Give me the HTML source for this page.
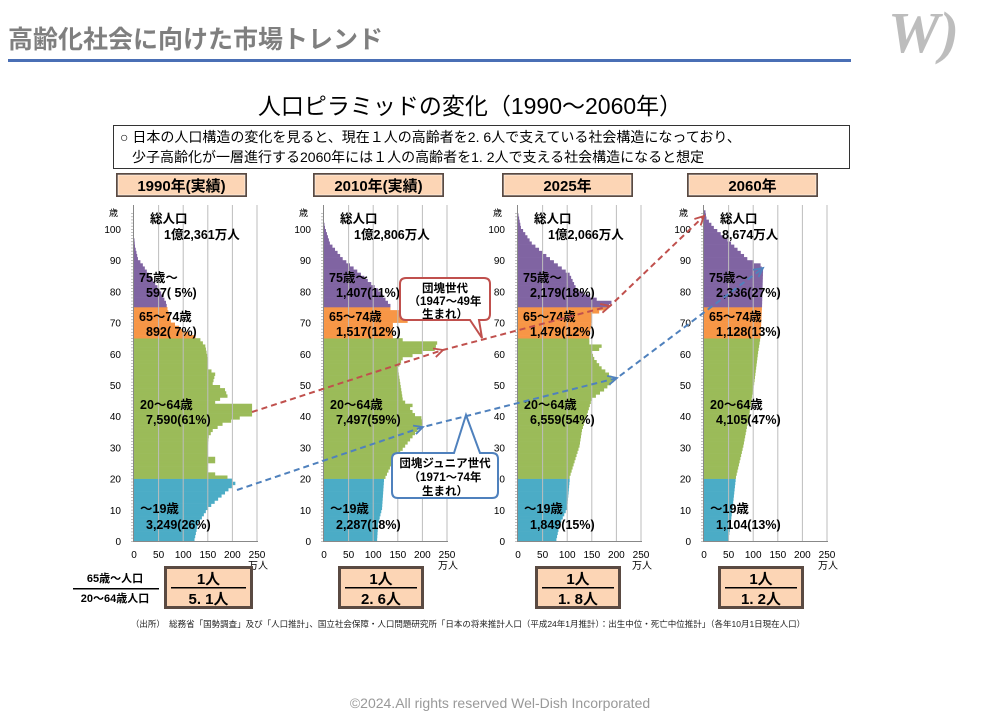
<!DOCTYPE html>
<html><head><meta charset="utf-8">
<style>
html,body{margin:0;padding:0;background:#fff;}
svg{display:block;font-family:"Liberation Sans","Noto Sans CJK JP",sans-serif;}
</style></head>
<body>
<svg id="s" width="1004" height="713" viewBox="0 0 1004 713" xmlns="http://www.w3.org/2000/svg">
<text x="8" y="48" font-size="25" font-weight="bold" fill="#7f7f7f">高齢化社会に向けた市場トレンド</text>
<rect x="8" y="59" width="843" height="3" fill="#4a6fb5"/>
<text x="888" y="52" font-size="58" font-weight="bold" font-family="Liberation Serif,serif" fill="#bdbdbd" font-style="italic">W)</text>
<text x="470" y="114" font-size="23" text-anchor="middle" fill="#000">人口ピラミッドの変化（1990～2060年）</text>
<rect x="113.5" y="125.5" width="736" height="43" fill="#fff" stroke="#333" stroke-width="1"/>
<text x="120" y="142" font-size="14" fill="#000">○ 日本の人口構造の変化を見ると、現在１人の高齢者を2. 6人で支えている社会構造になっており、</text>
<text x="132" y="162" font-size="14" fill="#000">少子高齢化が一層進行する2060年には１人の高齢者を1. 2人で支える社会構造になると想定</text>
<g id="g"></g>
<text x="115" y="582" font-size="11" font-weight="bold" text-anchor="middle">65歳～人口</text>
<rect x="73" y="588" width="86" height="1.5" fill="#000"/>
<text x="115" y="602" font-size="11" font-weight="bold" text-anchor="middle">20～64歳人口</text>
<text x="468" y="627" font-size="8.5" text-anchor="middle" fill="#222">（出所）　総務省「国勢調査」及び「人口推計」、国立社会保障・人口問題研究所「日本の将来推計人口（平成24年1月推計）：出生中位・死亡中位推計」（各年10月1日現在人口）</text>
<text x="500" y="708" font-size="14" text-anchor="middle" fill="#999">©2024.All rights reserved Wel-Dish Incorporated</text>
</svg>
<script>
var NS="http://www.w3.org/2000/svg",g=document.getElementById("g");
function el(t,a,txt){var e=document.createElementNS(NS,t);for(var k in a)e.setAttribute(k,a[k]);if(txt!=null)e.textContent=txt;g.appendChild(e);return e;}
var X0=[134,324,518,704],Y0=541,SY=3.12,SX=0.492;
var D=[
[[0,123],[5,130],[10,150],[15,185],[18,206],[19,200],[20,190],[21,165],[22,150],[24,150],[25,165],[26,165],[27,150],[30,150],[33,152],[35,160],[37,180],[39,215],[40,240],[43,240],[44,165],[45,175],[46,190],[48,185],[49,175],[50,160],[53,165],[55,150],[58,150],[62,145],[64,135],[65,125],[67,100],[70,75],[74,68],[76,65],[80,52],[85,30],[88,18],[90,8],[94,2],[98,0]],
[[0,108],[5,110],[10,118],[19,122],[20,125],[25,140],[30,165],[35,190],[37,200],[39,198],[40,185],[42,175],[43,180],[44,165],[45,160],[50,155],[55,150],[58,160],[60,200],[61,225],[63,230],[64,160],[65,140],[69,140],[70,170],[73,170],[74,135],[75,135],[80,110],[85,75],[90,38],[95,12],[100,2],[102,0]],
[[0,78],[5,85],[10,100],[19,105],[20,105],[25,115],[30,125],[35,130],[40,140],[45,150],[48,175],[51,195],[53,185],[55,170],[58,155],[60,150],[61,165],[62,170],[63,145],[65,145],[70,150],[72,150],[73,165],[74,180],[76,190],[77,160],[80,120],[85,105],[90,65],[95,28],[100,6],[104,1]],
[[0,50],[10,58],[20,65],[30,80],[40,92],[50,102],[60,110],[65,115],[75,118],[86,120],[88,115],[90,88],[95,55],[100,20],[103,5],[105,3]]];
function val(k,a){for(var i=0;i<k.length-1;i++){if(a>=k[i][0]&&a<=k[i+1][0]){var t=(a-k[i][0])/(k[i+1][0]-k[i][0]);return k[i][1]+t*(k[i+1][1]-k[i][1]);}}return 0;}
var L=[["1億2,361万人","597( 5%)","892( 7%)","7,590(61%)","3,249(26%)"],
["1億2,806万人","1,407(11%)","1,517(12%)","7,497(59%)","2,287(18%)"],
["1億2,066万人","2,179(18%)","1,479(12%)","6,559(54%)","1,849(15%)"],
["8,674万人","2,336(27%)","1,128(13%)","4,105(47%)","1,104(13%)"]];
var YB=[[116,131,"1990年(実績)"],[313,131,"2010年(実績)"],[502,131,"2025年"],[687,131,"2060年"]];
var RB=[[164,89,"5. 1人"],[338,86,"2. 6人"],[535,86,"1. 8人"],[718,86,"1. 2人"]];
for(var c=0;c<4;c++){
 var x0=X0[c];
 // year box
 var b=YB[c];
 el("rect",{x:b[0],y:173,width:b[1],height:24,fill:"#5a4a42"});
 el("rect",{x:b[0]+2,y:175,width:b[1]-4,height:20,fill:"#fcd5b5",stroke:"#fff","stroke-width":0.5});
 el("text",{x:b[0]+b[1]/2,y:191,"font-size":15,"font-weight":"bold","text-anchor":"middle"},b[2]);
 // bars
 for(var a=0;a<106;a++){var v=val(D[c],a);if(v<=0.5)continue;
  var col=a<20?"#4bacc6":a<65?"#9bbb59":a<75?"#f79646":"#8064a2";
  el("rect",{x:x0,y:(Y0-(a+1)*SY).toFixed(2),width:(v*SX).toFixed(2),height:SY+0.3,fill:col});}
 // grid
 for(var i=1;i<=5;i++){el("rect",{x:x0+i*50*SX-0.5,y:205,width:1,height:336,fill:"#bdbdbd"});}
 el("rect",{x:x0-1,y:205,width:1,height:337,fill:"#888"});
 for(var a=0;a<=105;a+=1){el("rect",{x:x0-3,y:Y0-a*SY,width:2,height:0.6,fill:"#999"});}
 el("rect",{x:x0-1,y:541,width:125,height:1,fill:"#888"});
 for(var a=0;a<=100;a+=10){el("text",{x:x0-13,y:Y0-a*SY+4,"font-size":10,"text-anchor":"end"},String(a));}
 el("text",{x:x0-16,y:216,"font-size":9,"text-anchor":"end"},"歳");
 for(var i=0;i<=5;i++){el("text",{x:x0+i*50*SX,y:558,"font-size":10,"text-anchor":"middle"},String(i*50));}
 el("text",{x:x0+124,y:569,"font-size":10,"text-anchor":"middle"},"万人");
 var l=L[c];
 el("text",{x:x0+16,y:223,"font-size":12.5,"font-weight":"bold"},"総人口");
 el("text",{x:x0+(c==3?18:30),y:239,"font-size":12.5,"font-weight":"bold"},l[0]);
 el("text",{x:x0+5,y:282,"font-size":12.5,"font-weight":"bold"},"75歳～");
 el("text",{x:x0+12,y:297,"font-size":12.5,"font-weight":"bold"},l[1]);
 el("text",{x:x0+5,y:321,"font-size":12.5,"font-weight":"bold"},"65～74歳");
 el("text",{x:x0+12,y:336,"font-size":12.5,"font-weight":"bold"},l[2]);
 el("text",{x:x0+6,y:409,"font-size":12.5,"font-weight":"bold"},"20～64歳");
 el("text",{x:x0+12,y:424,"font-size":12.5,"font-weight":"bold"},l[3]);
 el("text",{x:x0+6,y:513,"font-size":12.5,"font-weight":"bold"},"～19歳");
 el("text",{x:x0+12,y:529,"font-size":12.5,"font-weight":"bold"},l[4]);
 // ratio box
 var r=RB[c];
 el("rect",{x:r[0],y:566,width:r[1],height:43,fill:"#5a4a42"});
 el("rect",{x:r[0]+3,y:569,width:r[1]-6,height:37,fill:"#fcd5b5"});
 el("text",{x:r[0]+r[1]/2,y:584,"font-size":15,"font-weight":"bold","text-anchor":"middle"},"1人");
 el("rect",{x:r[0]+7,y:587,width:r[1]-14,height:1.5,fill:"#000"});
 el("text",{x:r[0]+r[1]/2,y:604,"font-size":15,"font-weight":"bold","text-anchor":"middle"},r[2]);
}
// callouts
el("path",{d:"M406,278 H484 Q490,278 490,284 V314 Q490,320 484,320 H479 L482,338 L470,320 H406 Q400,320 400,314 V284 Q400,278 406,278 Z",fill:"#fff",stroke:"#c0504d","stroke-width":2});
el("text",{x:445,y:292,"font-size":11.5,"font-weight":"bold","text-anchor":"middle"},"団塊世代");
el("text",{x:445,y:305,"font-size":11.5,"font-weight":"bold","text-anchor":"middle"},"（1947～49年");
el("text",{x:445,y:318,"font-size":11.5,"font-weight":"bold","text-anchor":"middle"},"生まれ）");
el("path",{d:"M398,453 H454 L466,415 L480,453 H492 Q498,453 498,459 V492 Q498,498 492,498 H398 Q392,498 392,492 V459 Q392,453 398,453 Z",fill:"#fff",stroke:"#4f81bd","stroke-width":2});
el("text",{x:445,y:467,"font-size":11.5,"font-weight":"bold","text-anchor":"middle"},"団塊ジュニア世代");
el("text",{x:445,y:481,"font-size":11.5,"font-weight":"bold","text-anchor":"middle"},"（1971～74年");
el("text",{x:445,y:495,"font-size":11.5,"font-weight":"bold","text-anchor":"middle"},"生まれ）");
// arrows
function arr(p,col){
 var d="M"+p[0][0]+","+p[0][1];for(var i=1;i<p.length;i++)d+=" L"+p[i][0]+","+p[i][1];
 el("path",{d:d,fill:"none",stroke:col,"stroke-width":2,"stroke-dasharray":"6,4"});
 for(var i=1;i<p.length;i++){var a=p[i-1],b=p[i],dx=b[0]-a[0],dy=b[1]-a[1],L=Math.hypot(dx,dy),ux=dx/L,uy=dy/L;
  var h=9,w=4.5;
  el("path",{d:"M"+(b[0]-ux*h-uy*w)+","+(b[1]-uy*h+ux*w)+" L"+b[0]+","+b[1]+" L"+(b[0]-ux*h+uy*w)+","+(b[1]-uy*h-ux*w),fill:"none",stroke:col,"stroke-width":1.8});}
}
arr([[252,412],[443,350],[610,306],[704,216]],"#c0504d");
arr([[237,490],[423,427],[617,378],[763,268]],"#4f81bd");
</script>
</body></html>
